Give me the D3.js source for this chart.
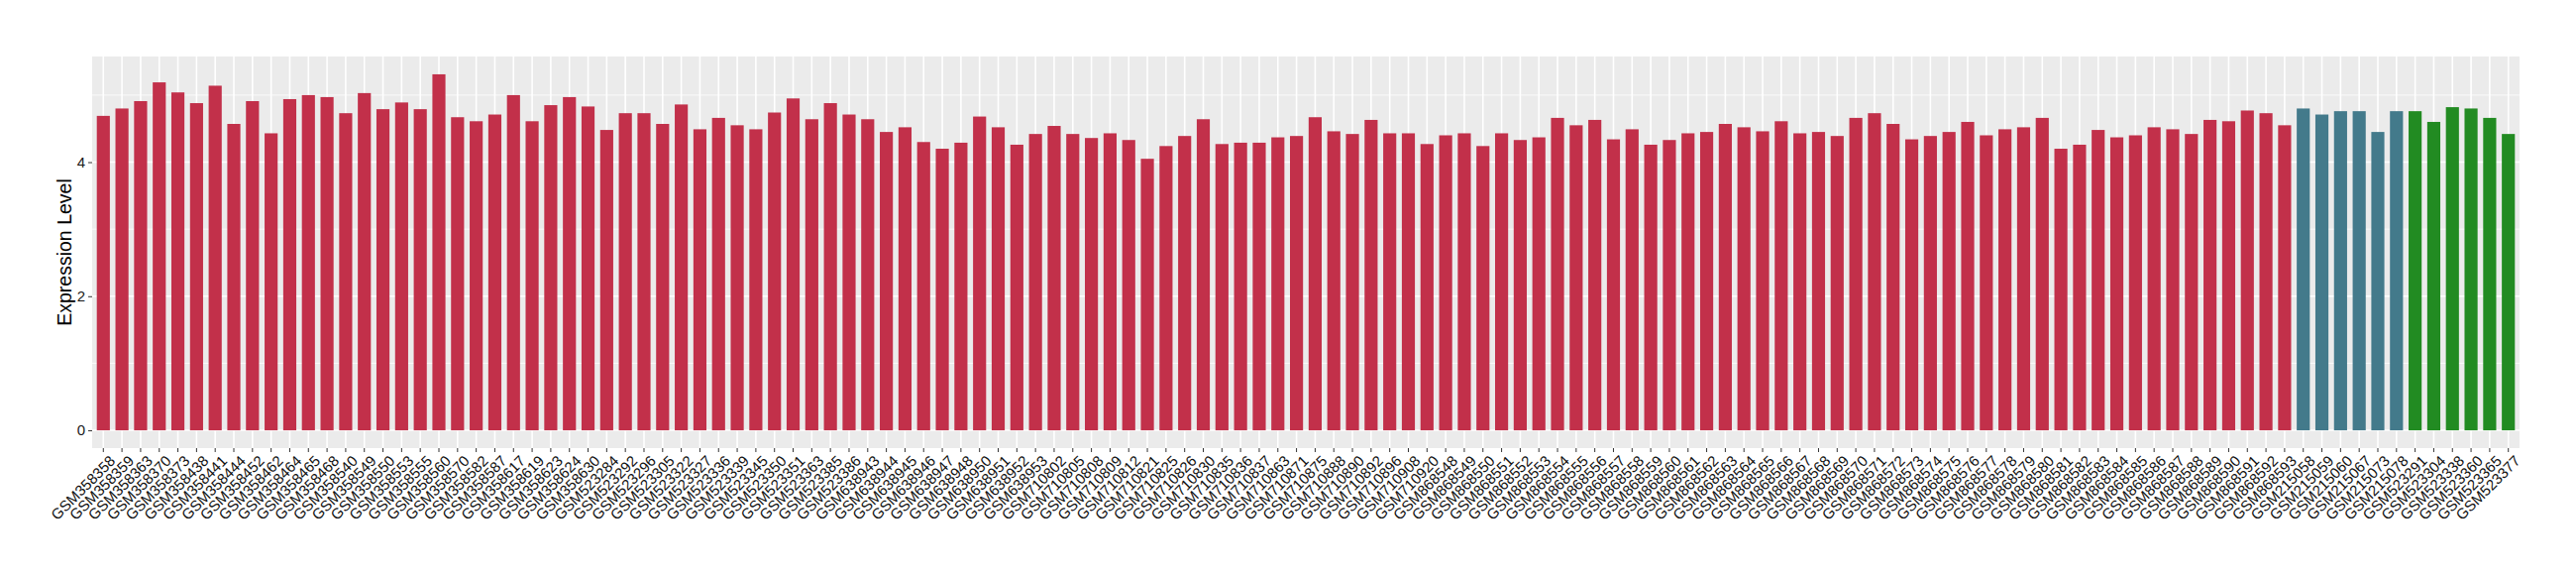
<!DOCTYPE html>
<html>
<head>
<meta charset="utf-8">
<script src="https://cdn.jsdelivr.net/npm/d3@7"></script>
<style>
  html, body { margin: 0; padding: 0; background: #ffffff; }
  svg { display: block; }
  text { font-family: "Liberation Sans", Arial, sans-serif; }
</style>
</head>
<body>
<svg id="chart" width="2600" height="580"></svg>
<script>
const redSamples = [
  "GSM358358","GSM358359","GSM358363","GSM358370","GSM358373","GSM358438","GSM358441","GSM358444","GSM358452","GSM358462",
  "GSM358464","GSM358465","GSM358468","GSM358540","GSM358549","GSM358550","GSM358553","GSM358555","GSM358560","GSM358570",
  "GSM358582","GSM358587","GSM358617","GSM358619","GSM358623","GSM358624","GSM358630",
  "GSM523284","GSM523292","GSM523296","GSM523305","GSM523322","GSM523327","GSM523336","GSM523339","GSM523345","GSM523350",
  "GSM523351","GSM523363","GSM523385","GSM523386",
  "GSM638943","GSM638944","GSM638945","GSM638946","GSM638947","GSM638948","GSM638950","GSM638951","GSM638952","GSM638953",
  "GSM710802","GSM710805","GSM710808","GSM710809","GSM710812","GSM710821","GSM710825","GSM710826","GSM710830","GSM710835",
  "GSM710836","GSM710837","GSM710863","GSM710871","GSM710875","GSM710888","GSM710890","GSM710892","GSM710896","GSM710908",
  "GSM710920",
  "GSM868548","GSM868549","GSM868550","GSM868551","GSM868552","GSM868553","GSM868554","GSM868555","GSM868556","GSM868557",
  "GSM868558","GSM868559","GSM868560","GSM868561","GSM868562","GSM868563","GSM868564","GSM868565","GSM868566","GSM868567",
  "GSM868568","GSM868569","GSM868570","GSM868571","GSM868572","GSM868573","GSM868574","GSM868575","GSM868576","GSM868577",
  "GSM868578","GSM868579","GSM868580","GSM868581","GSM868582","GSM868583","GSM868584","GSM868585","GSM868586","GSM868587",
  "GSM868588","GSM868589","GSM868590","GSM868591","GSM868592","GSM868593"
];
const redValues = [
  4.69,4.80,4.91,5.19,5.04,4.88,5.14,4.57,4.91,4.43,
  4.94,5.00,4.97,4.73,5.03,4.79,4.89,4.79,5.31,4.67,
  4.61,4.71,5.00,4.61,4.85,4.97,4.83,
  4.48,4.73,4.73,4.57,4.86,4.49,4.66,4.55,4.49,4.74,
  4.95,4.64,4.88,4.71,
  4.64,4.45,4.52,4.30,4.20,4.29,4.68,4.52,4.26,4.42,
  4.54,4.42,4.36,4.43,4.33,4.05,4.24,4.39,4.64,4.27,
  4.29,4.29,4.37,4.39,4.67,4.46,4.42,4.63,4.43,4.43,
  4.27,
  4.40,4.43,4.24,4.43,4.33,4.37,4.66,4.55,4.63,4.34,
  4.49,4.26,4.33,4.43,4.45,4.57,4.52,4.46,4.61,4.43,
  4.45,4.39,4.66,4.73,4.57,4.34,4.39,4.45,4.60,4.40,
  4.49,4.52,4.66,4.20,4.26,4.48,4.37,4.40,4.52,4.49,
  4.42,4.63,4.61,4.77,4.73,4.55
];
const blueSamples = ["GSM215058","GSM215059","GSM215060","GSM215067","GSM215073","GSM215078"];
const blueValues  = [4.80,4.71,4.76,4.76,4.45,4.76];
const greenSamples = ["GSM523291","GSM523304","GSM523338","GSM523360","GSM523365","GSM523377"];
const greenValues  = [4.76,4.60,4.82,4.80,4.66,4.42];
const yTicks = [0, 2, 4];
const yMinorTicks = [1, 3, 5];
const groupColors = { red: "#C2304A", blue: "#437A8B", green: "#228B22" };

const data = [
  ...redSamples.map((s, i) => ({ sample: s, value: redValues[i], group: "red" })),
  ...blueSamples.map((s, i) => ({ sample: s, value: blueValues[i], group: "blue" })),
  ...greenSamples.map((s, i) => ({ sample: s, value: greenValues[i], group: "green" }))
];

const margin = { left: 93, top: 57, right: 57, bottom: 128 };
const W = 2600, H = 580;
const pw = W - margin.left - margin.right;
const ph = H - margin.top - margin.bottom;

const svg = d3.select("#chart");
const g = svg.append("g").attr("transform", `translate(${margin.left},${margin.top})`);

const x = d3.scaleBand()
  .domain(data.map(d => d.sample))
  .range([0, pw])
  .paddingInner(0.3)
  .paddingOuter(0.25);

const maxV = d3.max(data, d => d.value);
const y = d3.scaleLinear()
  .domain([-0.05 * maxV, 1.05 * maxV])
  .range([ph, 0]);

// panel background
g.append("rect").attr("x", 0).attr("y", 0).attr("width", pw).attr("height", ph).attr("fill", "#EBEBEB");

// minor horizontal grid
g.selectAll(".minor").data(yMinorTicks).enter().append("line")
  .attr("x1", 0).attr("x2", pw)
  .attr("y1", d => y(d)).attr("y2", d => y(d))
  .attr("stroke", "#ffffff").attr("stroke-width", 0.8);

// major horizontal grid
g.selectAll(".major").data(yTicks).enter().append("line")
  .attr("x1", 0).attr("x2", pw)
  .attr("y1", d => y(d)).attr("y2", d => y(d))
  .attr("stroke", "#ffffff").attr("stroke-width", 1.6);

// vertical grid
g.selectAll(".vgrid").data(data).enter().append("line")
  .attr("x1", d => x(d.sample) + x.bandwidth() / 2)
  .attr("x2", d => x(d.sample) + x.bandwidth() / 2)
  .attr("y1", 0).attr("y2", ph)
  .attr("stroke", "#ffffff").attr("stroke-width", 1.6);

// bars
g.selectAll(".bar").data(data).enter().append("rect")
  .attr("x", d => x(d.sample))
  .attr("width", x.bandwidth())
  .attr("y", d => y(d.value))
  .attr("height", d => y(0) - y(d.value))
  .attr("fill", d => groupColors[d.group]);

// y axis
const yAxis = d3.axisLeft(y).tickValues(yTicks).tickSize(4).tickPadding(3).tickFormat(d3.format("d"));
const ya = g.append("g").call(yAxis);
ya.select(".domain").remove();
ya.selectAll(".tick line").attr("stroke", "#333333").attr("stroke-width", 1);
ya.selectAll(".tick text").attr("fill", "#1a1a1a").style("font-size", "15px")
  .style("font-family", "'Liberation Sans', Arial, sans-serif");

// x axis
const xAxis = d3.axisBottom(x).tickSize(4).tickPadding(2);
const xa = g.append("g").attr("transform", `translate(0,${ph})`).call(xAxis);
xa.select(".domain").remove();
xa.selectAll(".tick line").attr("stroke", "#333333").attr("stroke-width", 1);
xa.selectAll(".tick text")
  .attr("fill", "#111111")
  .style("font-size", "15px")
  .style("font-family", "'Liberation Sans', Arial, sans-serif")
  .attr("text-anchor", "end")
  .attr("dy", "0.75em")
  .attr("transform", "translate(5,6) rotate(-45)")
  .attr("x", 0).attr("y", 0);

// y title
svg.append("text")
  .attr("transform", `translate(72,${margin.top + ph / 2}) rotate(-90)`)
  .attr("text-anchor", "middle")
  .attr("fill", "#000000")
  .style("font-size", "19.5px")
  .text("Expression Level");
</script>
</body>
</html>
